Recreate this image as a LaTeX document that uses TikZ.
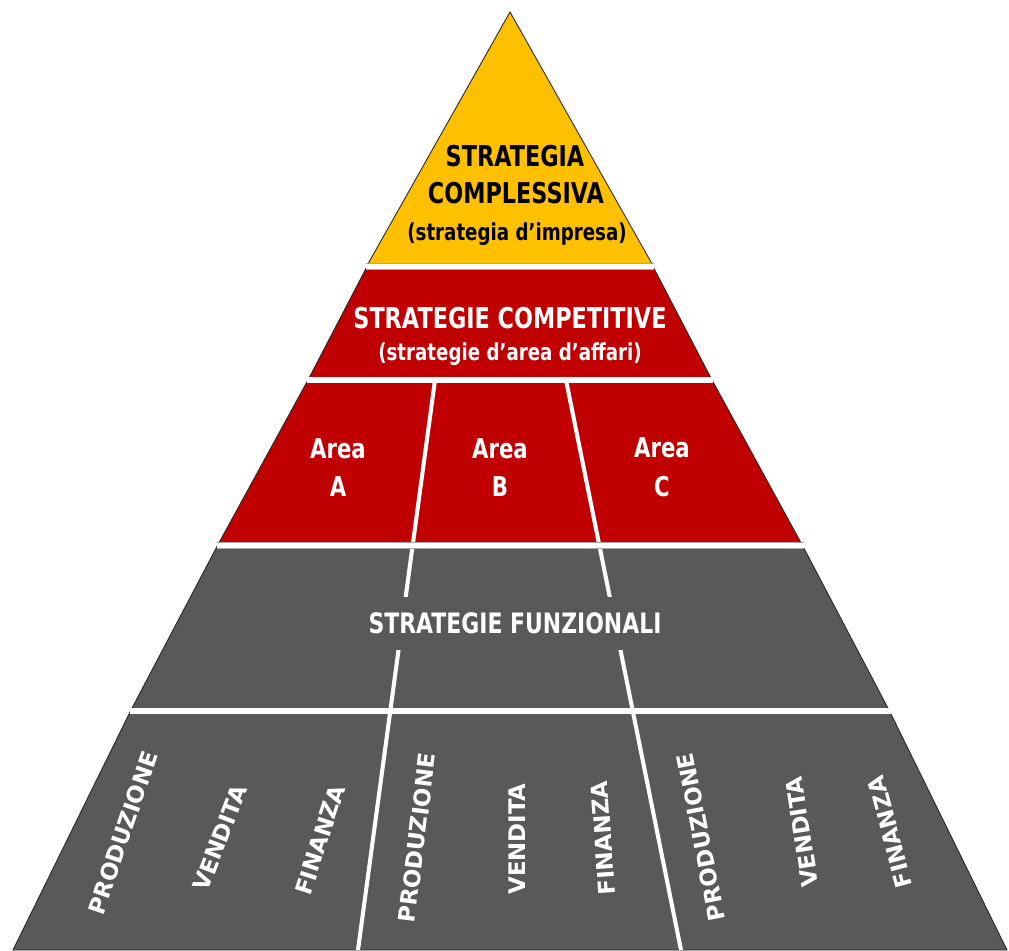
\documentclass[tikz,border=0pt]{standalone}
\usepackage{fontspec}
\newfontfamily\pyrfont[FakeStretch=0.78]{DejaVu Sans}
\newfontfamily\colfont{DejaVu Sans}
\usetikzlibrary{calc}

\definecolor{pyryellow}{HTML}{FFC000}
\definecolor{pyrred}{HTML}{C00000}
\definecolor{pyrgray}{HTML}{595959}

\tikzset{
  band/.style={draw=black!85, line width=0.5pt},
  sepline/.style={draw=black!35, line width=0.3pt, double=white, double distance=3.2pt},
  divline/.style={draw=white, line width=2.3pt},
  bigtxt/.style={font=\pyrfont\bfseries\fontsize{16.3}{19}\selectfont, inner sep=0pt, anchor=base},
  subtxt/.style={font=\pyrfont\bfseries\fontsize{13.3}{16}\selectfont, inner sep=0pt, anchor=base},
  areatxt/.style={font=\pyrfont\bfseries\fontsize{15.5}{22}\selectfont, text=white, inner sep=0pt, align=center},
  collbl/.style={font=\colfont\bfseries\fontsize{13}{15}\selectfont, text=white, inner sep=0pt}
}

\begin{document}
\begin{tikzpicture}[x=0.02cm, y=-0.02cm]
            \useasboundingbox (0,0) rectangle (1009,951);

            % Bands of the pyramid
            \filldraw[band, fill=pyryellow] (510,12) -- (653.5,266.5) -- (366.5,266.5) -- cycle;
            \filldraw[band, fill=pyrred] (367,266.5) -- (653,266.5) -- (712,380) -- (308,380) -- cycle;
            \filldraw[band, fill=pyrred] (308,380) -- (712,380) -- (802.5,545.5) -- (217.5,545.5) -- cycle;
            \filldraw[band, fill=pyrgray] (217.5,545.5) -- (802.5,545.5) -- (889.5,711) -- (130.5,711) -- cycle;
            \filldraw[band, fill=pyrgray] (130.5,711) -- (889.5,711) -- (1007,950) -- (13,950) -- cycle;

            % Dividers between the areas
            \draw[divline] (435,380) -- (358,950);
            \draw[divline] (566,380) -- (681,950);

            % Separators
            \draw[sepline] (366,266.5) -- (654,266.5);
            \draw[sepline] (307,380) -- (713,380);
            \draw[sepline] (216.5,545.5) -- (803.5,545.5);
            \draw[sepline] (129.5,711) -- (890.5,711);

            % Corporate level
            \node[bigtxt] (strat1) at (515,166) {STRATEGIA};
            \node[bigtxt] (strat2) at (516,203) {COMPLESSIVA};
            \node[subtxt] (strat3) at (517,240) {(strategia d’impresa)};

            % Business level
            \node[bigtxt, text=white] (comp1) at (510,328) {STRATEGIE COMPETITIVE};
            \node[subtxt, text=white] (comp2) at (510,360) {(strategie d’area d’affari)};

            \node[areatxt] (areaA) at (338,467.5) {Area\\A};
            \node[areatxt] (areaB) at (500,467.5) {Area\\B};
            \node[areatxt] (areaC) at (662,467.5) {Area\\C};

            % Functional level
            \node[bigtxt, anchor=center, text=white, fill=pyrgray, minimum height=1.06cm, inner xsep=4pt,
                  font=\pyrfont\bfseries\fontsize{16}{18}\selectfont] (funz) at (515,623) {STRATEGIE FUNZIONALI};

            \foreach \nm/\cx/\cy/\ang/\lbl in {pa/123/833/71/PRODUZIONE, va/220/838/69/VENDITA, fa/320/840/72/FINANZA,
                pb/417/838/83/PRODUZIONE, vb/517/839/90/VENDITA, fb/603/838/94/FINANZA,
                pc/701/837/101/PRODUZIONE, vc/802/832/99/VENDITA, fc/890/832/105/FINANZA} {
                \node[collbl, rotate=\ang] (\nm) at (\cx,\cy) {\lbl};
            }

        \end{tikzpicture}
\end{document}
